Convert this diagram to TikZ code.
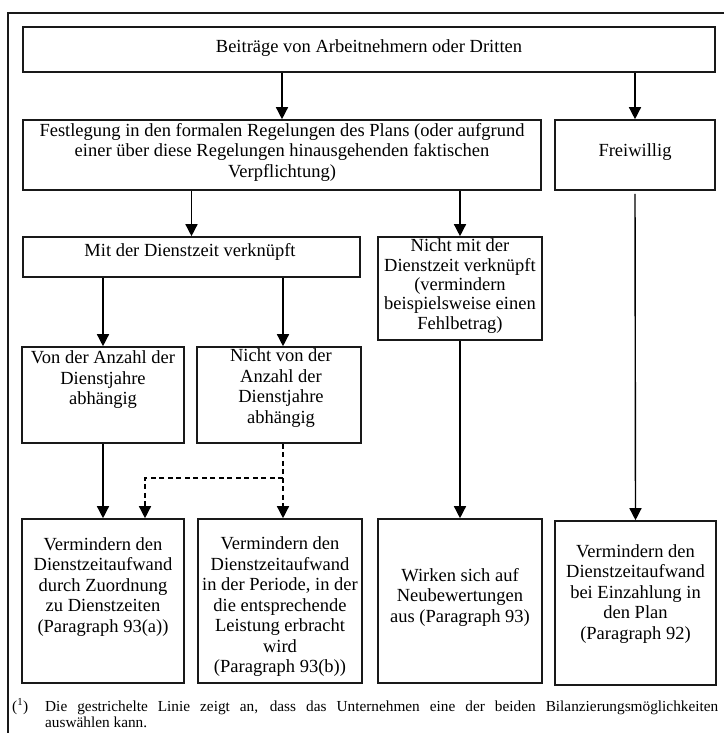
\documentclass[tikz,border=0pt]{standalone}
\usepackage{fontspec}
\setmainfont{Liberation Serif}
\usetikzlibrary{positioning,arrows.meta}

\begin{document}
\begin{tikzpicture}[
      x=1pt,y=-1pt,
      box/.style={draw=black!90,line width=1.6pt,inner sep=0pt},
      txt/.style={align=center,inner sep=0pt,
        font=\fontsize{18.5}{20.5}\selectfont},
      arr/.style={line width=1.4pt,
        -{Triangle[width=12pt,length=12pt]}},
      dsh/.style={arr,dash pattern=on 5pt off 3.5pt}
    ]
    \useasboundingbox (0,0) rectangle (724,733);
    % outer frame (only top and left are visible)
    \draw[line width=1.6pt,black!90] (724,13) -- (8,13) -- (8,733);

    % boxes
    \node[box,minimum width=692pt,minimum height=45pt] (top) at (369,49.5) {};
    \node[box,minimum width=518pt,minimum height=70pt] (festl) at (282,155) {};
    \node[box,minimum width=160pt,minimum height=70pt] (frei) at (635,155) {};
    \node[box,minimum width=337pt,minimum height=40pt] (mit) at (191.5,257) {};
    \node[box,minimum width=164pt,minimum height=103pt] (nichtmit) at (460,288.5) {};
    \node[box,minimum width=162pt,minimum height=96pt] (von) at (103,395) {};
    \node[box,minimum width=164pt,minimum height=96pt] (nichtvon) at (279,395) {};
    \node[box,minimum width=162pt,minimum height=164pt] (res1) at (103,601) {};
    \node[box,minimum width=164pt,minimum height=164pt] (res2) at (280,601) {};
    \node[box,minimum width=164pt,minimum height=164pt] (res3) at (460,601) {};
    \node[box,minimum width=161pt,minimum height=164pt] (res4) at (635.5,603) {};

    % texts
    \node[txt] (toptxt) at (369,48) {Beiträge von Arbeitnehmern oder Dritten};
    \node[txt] (festltxt) at (282,152) {Festlegung in den formalen Regelungen des Plans (oder aufgrund\\
      einer über diese Regelungen hinausgehenden faktischen\\ Verpflichtung)};
    \node[txt] (freitxt) at (635,152) {Freiwillig};
    \node[txt] (mittxt) at (190,252) {Mit der Dienstzeit verknüpft};
    \node[txt,font=\fontsize{18.5}{19.3}\selectfont] (nichtmittxt) at (460,286)
      {Nicht mit der\\ Dienstzeit verknüpft\\ (vermindern\\ beispielsweise einen\\ Fehlbetrag)};
    \node[txt] (vontxt) at (103,380) {Von der Anzahl der\\ Dienstjahre\\ abhängig};
    \node[txt] (nichtvontxt) at (281,388) {Nicht von der\\ Anzahl der\\ Dienstjahre\\ abhängig};
    \node[txt] (res1txt) at (103,587) {Vermindern den\\ Dienstzeitaufwand\\
      durch Zuordnung\\ zu Dienstzeiten\\ (Paragraph 93(a))};
    \node[txt] (res2txt) at (280,607) {Vermindern den\\ Dienstzeitaufwand\\
      in der Periode, in der\\ die entsprechende\\ Leistung erbracht\\ wird\\
      (Paragraph 93(b))};
    \node[txt] (res3txt) at (460,597) {Wirken sich auf\\ Neubewertungen\\
      aus (Paragraph 93)};
    \node[txt] (res4txt) at (635.5,594) {Vermindern den\\ Dienstzeitaufwand\\
      bei Einzahlung in\\ den Plan\\ (Paragraph 92)};

    % connectors
    \draw[arr] (top.south -| festl.north) -- (festl.north);
    \draw[arr] (top.south -| frei.north) -- (frei.north);
    \draw[arr] (festl.south -| mit.north) -- (mit.north);
    \draw[arr] (festl.south -| nichtmit.north) -- (nichtmit.north);
    \draw[arr] (mit.south -| von.north) -- (von.north);
    \draw[arr] ([xshift=4pt]nichtvon.north |- mit.south) -- ([xshift=4pt]nichtvon.north);
    \draw[arr] (von.south) -- (res1.north);
    \draw[dsh] ([xshift=4pt]nichtvon.south) -- ([xshift=3pt]res2.north);
    \draw[dsh] ([xshift=4pt,yshift=-34pt]nichtvon.south) -| ([xshift=42pt]res1.north);
    \draw[arr] (nichtmit.south) -- (res3.north);
    \draw[arr,shorten <=3pt] (frei.south) -- (res4.north);

    % footnote
    \node[anchor=base west,inner sep=0pt,font=\fontsize{15.3}{16.5}\selectfont]
      (fnmark) at (12,711) {(\textsuperscript{1})};
    \node[anchor=base west,inner sep=0pt,text width=673pt,align=justify,
      font=\fontsize{15.3}{16.5}\selectfont] (fntxt) at (45,711)
      {Die gestrichelte Linie zeigt an, dass das Unternehmen eine der beiden
      Bilanzierungsmöglichkeiten\linebreak auswählen kann.};
  \end{tikzpicture}
\end{document}
